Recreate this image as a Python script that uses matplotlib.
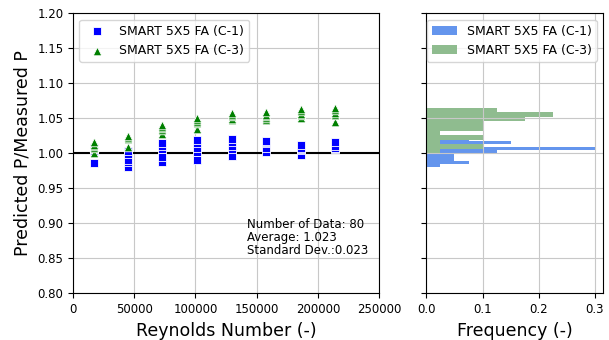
import numpy as np
import matplotlib
matplotlib.use("Agg")
import matplotlib.pyplot as plt

# Reynolds number of each test group
reynolds = [17000, 45000, 73000, 101000, 130000, 158000, 186000, 214000]

# Predicted P / Measured P, five points per Reynolds group
c1_ratio = [
    [0.986, 1.003, 1.006, 1.007, 1.008],
    [0.981, 0.988, 0.991, 0.999, 1.003],
    [0.987, 0.995, 1.006, 1.010, 1.015],
    [0.991, 1.002, 1.007, 1.014, 1.019],
    [0.996, 1.006, 1.011, 1.016, 1.021],
    [1.002, 1.007, 1.014, 1.016, 1.018],
    [0.998, 1.004, 1.006, 1.008, 1.012],
    [1.006, 1.007, 1.008, 1.010, 1.016],
]
c3_ratio = [
    [1.000, 1.008, 1.010, 1.012, 1.016],
    [1.009, 1.020, 1.022, 1.024, 1.025],
    [1.028, 1.033, 1.036, 1.038, 1.040],
    [1.035, 1.043, 1.045, 1.048, 1.051],
    [1.047, 1.049, 1.053, 1.055, 1.057],
    [1.047, 1.050, 1.053, 1.055, 1.059],
    [1.050, 1.054, 1.056, 1.060, 1.063],
    [1.044, 1.054, 1.057, 1.062, 1.065],
]

label_c1 = "SMART 5X5 FA (C-1)"
label_c3 = "SMART 5X5 FA (C-3)"
stats_text = "Number of Data: 80\nAverage: 1.023\nStandard Dev.:0.023"


def flatten(groups):
    xs, ys = [], []
    for re, vals in zip(reynolds, groups):
        for v in vals:
            xs.append(re)
            ys.append(v)
    return np.array(xs), np.array(ys)


x1, y1 = flatten(c1_ratio)
x3, y3 = flatten(c3_ratio)

plt.rcParams["grid.color"] = "#c8c8c8"

fig = plt.figure(figsize=(6.09, 3.4), dpi=100)
ax = fig.add_axes([0.1199, 0.1374, 0.5025, 0.8235])
ax2 = fig.add_axes([0.7003, 0.1374, 0.2898, 0.8235], sharey=ax)

# scatter plot
ax.axhline(1.0, color="black", lw=1.5, zorder=1.8)
ax.scatter(x1, y1, marker="s", s=28, color="blue", edgecolors="white", linewidths=0.6, label=label_c1, zorder=3)
ax.scatter(x3, y3, marker="^", s=38, color="green", edgecolors="white", linewidths=0.6, label=label_c3, zorder=3)
ax.set_xlim(0, 250000)
ax.set_ylim(0.8, 1.2)
ax.set_xticks([0, 50000, 100000, 150000, 200000, 250000])
ax.set_yticks(np.arange(0.80, 1.201, 0.05))
ax.yaxis.set_major_formatter(matplotlib.ticker.FormatStrFormatter("%.2f"))
ax.grid(True)
ax.set_xlabel("Reynolds Number (-)", fontsize=12.5)
ax.set_ylabel("Predicted P/Measured P", fontsize=12.5)
ax.tick_params(labelsize=8.5)
ax.legend(loc="upper left", scatterpoints=1, fontsize=9)
ax.text(142000, 0.908, stats_text, va="top", fontsize=8.5, linespacing=1.0)

# histograms
ax2.hist(y1, bins=10, weights=np.ones(len(y1)) / len(y1), orientation="horizontal",
         color="cornflowerblue", label=label_c1)
ax2.hist(y3, bins=10, weights=np.ones(len(y3)) / len(y3), orientation="horizontal",
         color="darkseagreen", label=label_c3)
ax2.set_xticks([0.0, 0.1, 0.2, 0.3])
ax2.grid(True)
ax2.tick_params(labelsize=8.5, labelleft=False)
ax2.set_xlabel("Frequency (-)", fontsize=12.5)
ax2.legend(loc="upper right", fontsize=9)

fig.savefig("out.png", dpi=100)
